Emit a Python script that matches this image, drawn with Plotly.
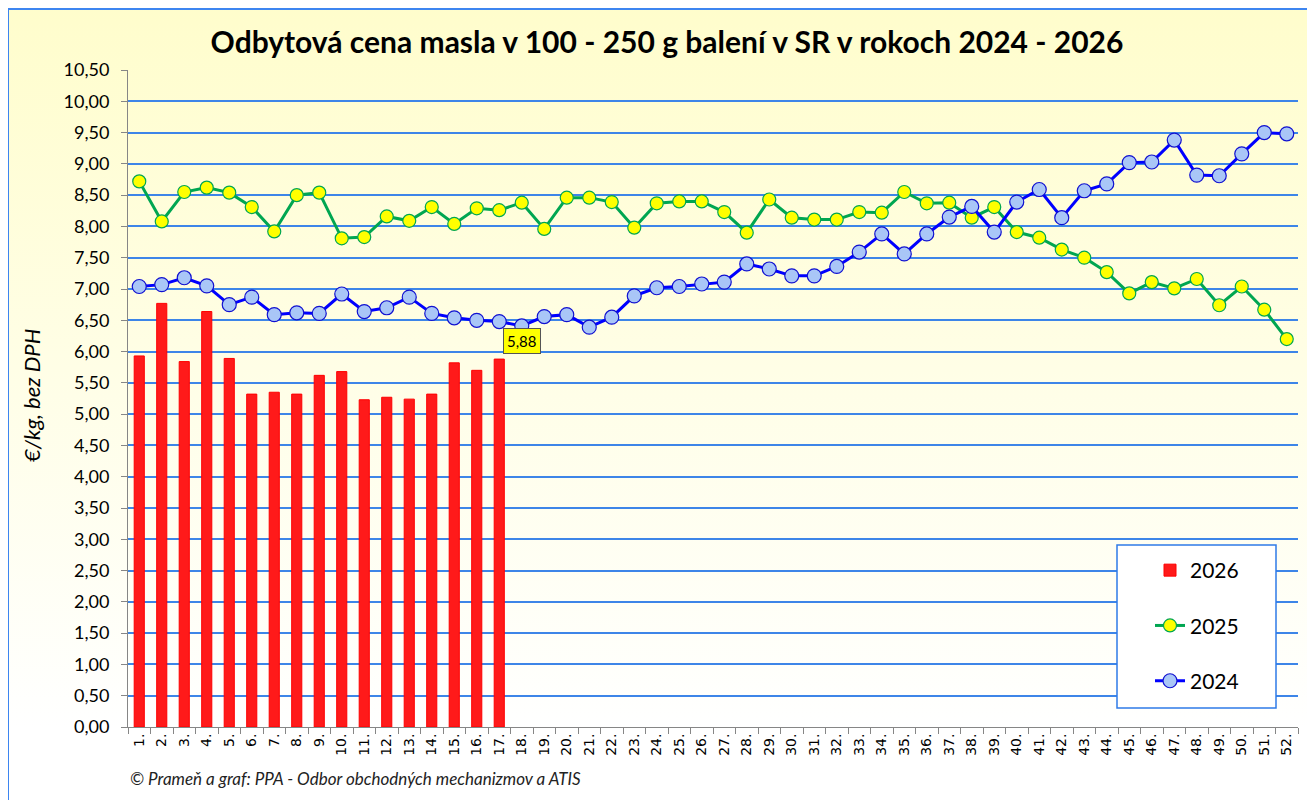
import base64
import plotly.graph_objects as go

# ---- data ----
weeks = [f"{i}." for i in range(1, 53)]

v2024 = [7.04, 7.07, 7.18, 7.05, 6.75, 6.87, 6.59, 6.62, 6.61, 6.92,
         6.64, 6.70, 6.87, 6.61, 6.54, 6.50, 6.48, 6.41, 6.56, 6.59,
         6.39, 6.55, 6.89, 7.02, 7.04, 7.08, 7.11, 7.40, 7.32, 7.21,
         7.21, 7.36, 7.59, 7.88, 7.56, 7.88, 8.15, 8.32, 7.91, 8.39,
         8.59, 8.14, 8.57, 8.68, 9.02, 9.03, 9.38, 8.82, 8.81, 9.16,
         9.50, 9.48]

v2025 = [8.72, 8.08, 8.55, 8.62, 8.54, 8.31, 7.92, 8.50, 8.54, 7.81,
         7.83, 8.16, 8.09, 8.31, 8.04, 8.29, 8.26, 8.38, 7.96, 8.46,
         8.46, 8.39, 7.98, 8.37, 8.40, 8.40, 8.23, 7.90, 8.43, 8.14,
         8.11, 8.11, 8.23, 8.22, 8.55, 8.37, 8.38, 8.14, 8.31, 7.91,
         7.82, 7.63, 7.50, 7.27, 6.93, 7.11, 7.01, 7.16, 6.74, 7.04,
         6.67, 6.20]

v2026 = [5.93, 6.77, 5.84, 6.64, 5.89, 5.32, 5.35, 5.32, 5.62, 5.68,
         5.23, 5.27, 5.24, 5.32, 5.82, 5.70, 5.88]

y_ticks = [i * 0.5 for i in range(22)]

title_text = "Odbytová cena masla v 100 - 250 g balení v SR v rokoch 2024 - 2026"
y_title = "€/kg, bez DPH"
footer = "© Prameň a graf: PPA - Odbor obchodných mechanizmov a ATIS"

# ---- geometry (screen coords; page body adds an 8px offset) ----
OFF = 8
W, H = 1315, 800
PL, PR, PT, PB = 128, 1298, 70, 727          # plot area on screen
ML, MR, MT, MB = PL - OFF, W + OFF - PR, PT - OFF, H + OFF - PB
PW, PH = PR - PL, PB - PT


def px(x):
    return (x - PL) / PW


def py(y):
    return (PB - y) / PH


GRID = "#3d85e8"
FONT = "Lato"

fig = go.Figure()

fig.add_trace(go.Bar(
    x=weeks[:len(v2026)], y=v2026, name="2026", legendgroup="a",
    marker=dict(color="#ff1a1a", line=dict(color="#ff0000", width=1)),
    width=0.45,
))
fig.add_trace(go.Scatter(
    x=weeks, y=v2025, name="2025", mode="lines+markers", legendgroup="b",
    line=dict(color="#00a651", width=3),
    marker=dict(size=13, color="#ffff00", line=dict(color="#00a651", width=1.2)),
))
fig.add_trace(go.Scatter(
    x=weeks, y=v2024, name="2024", mode="lines+markers", legendgroup="c",
    line=dict(color="#0000ff", width=3),
    marker=dict(size=14, color="#a9c6f7", line=dict(color="#1010d0", width=1.2)),
))

# label on the last 2026 bar
fig.add_annotation(
    x=weeks[len(v2026) - 1], y=v2026[-1], text=f"{v2026[-1]:.2f}".replace(".", ","),
    showarrow=False, yanchor="bottom", yshift=5,
    font=dict(family=FONT, size=15, color="black"),
    bgcolor="#ffff00", bordercolor="#555555", borderwidth=1, borderpad=3,
)

# gradient background
svg = ("<svg xmlns='http://www.w3.org/2000/svg' width='100' height='100' preserveAspectRatio='none'>"
       "<defs><linearGradient id='g' x1='0' y1='0' x2='0' y2='1'>"
       "<stop offset='0' stop-color='#fffdcc'/><stop offset='0.45' stop-color='#fffee6'/>"
       "<stop offset='0.9' stop-color='#ffffff'/><stop offset='1' stop-color='#ffffff'/>"
       "</linearGradient></defs><rect width='100' height='100' fill='url(#g)'/></svg>")
src = "data:image/svg+xml;base64," + base64.b64encode(svg.encode()).decode()
fig.add_layout_image(dict(
    source=src, xref="paper", yref="paper", x=px(OFF), y=py(OFF),
    sizex=W / PW, sizey=H / PH, sizing="stretch", layer="below",
    xanchor="left", yanchor="top",
))

# outer border
fig.add_shape(type="rect", xref="paper", yref="paper",
              x0=px(6 + 2), x1=px(1340), y0=py(5 + 4), y1=py(830),
              line=dict(color="#3d85f0", width=2), fillcolor="rgba(0,0,0,0)")
# legend box
fig.add_shape(type="rect", xref="paper", yref="paper",
              x0=px(1117), x1=px(1276), y0=py(708), y1=py(545),
              line=dict(color="#2f7be8", width=1.5), fillcolor="white", layer="above")

# y-axis title & footer
fig.add_annotation(xref="paper", yref="paper", x=px(31), y=py(396), text=f"<i>{y_title}</i>",
                   textangle=-90, showarrow=False, xanchor="center", yanchor="middle",
                   font=dict(family=FONT, size=22, color="black"))
fig.add_annotation(xref="paper", yref="paper", x=px(128), y=py(778), text=f"<i>{footer}</i>",
                   showarrow=False, xanchor="left", yanchor="middle",
                   font=dict(family=FONT, size=17, color="#222222"))

fig.update_layout(
    width=W, height=H,
    margin=dict(l=ML, r=MR, t=MT, b=MB, autoexpand=False),
    paper_bgcolor="white", plot_bgcolor="rgba(0,0,0,0)",
    separators=",.",
    title=dict(text=f"<b>{title_text}</b>", xref="paper", x=px(667), xanchor="center",
               y=1 - (42 - OFF) / H, yanchor="middle",
               font=dict(family=FONT, size=30, color="black")),
    showlegend=True,
    legend=dict(x=px(1150), y=py(550), xanchor="left", yanchor="top",
                bgcolor="rgba(0,0,0,0)", borderwidth=0, traceorder="grouped",
                tracegroupgap=25, itemwidth=30,
                font=dict(family=FONT, size=21, color="black")),
    bargap=0.5,
    font=dict(family=FONT, color="black"),
)

fig.update_xaxes(
    type="category", categoryorder="array", categoryarray=weeks,
    range=[-0.5, 51.5], tickangle=-90, tickson="boundaries",
    ticks="outside", ticklen=6, tickcolor="#868686",
    showline=True, linecolor="#868686", linewidth=1, showgrid=False,
    tickfont=dict(family="DejaVu Sans", size=14, color="black"),
)
fig.update_yaxes(
    range=[0, 10.5], tickvals=y_ticks, tickformat=".2f",
    ticks="outside", ticklen=6, tickcolor="#868686",
    showline=True, linecolor="#868686", linewidth=1,
    showgrid=True, gridcolor=GRID, gridwidth=1.5, zeroline=False,
    ticklabelstandoff=8,
    tickfont=dict(family=FONT, size=18, color="black"),
)

fig.write_html("out.html")
